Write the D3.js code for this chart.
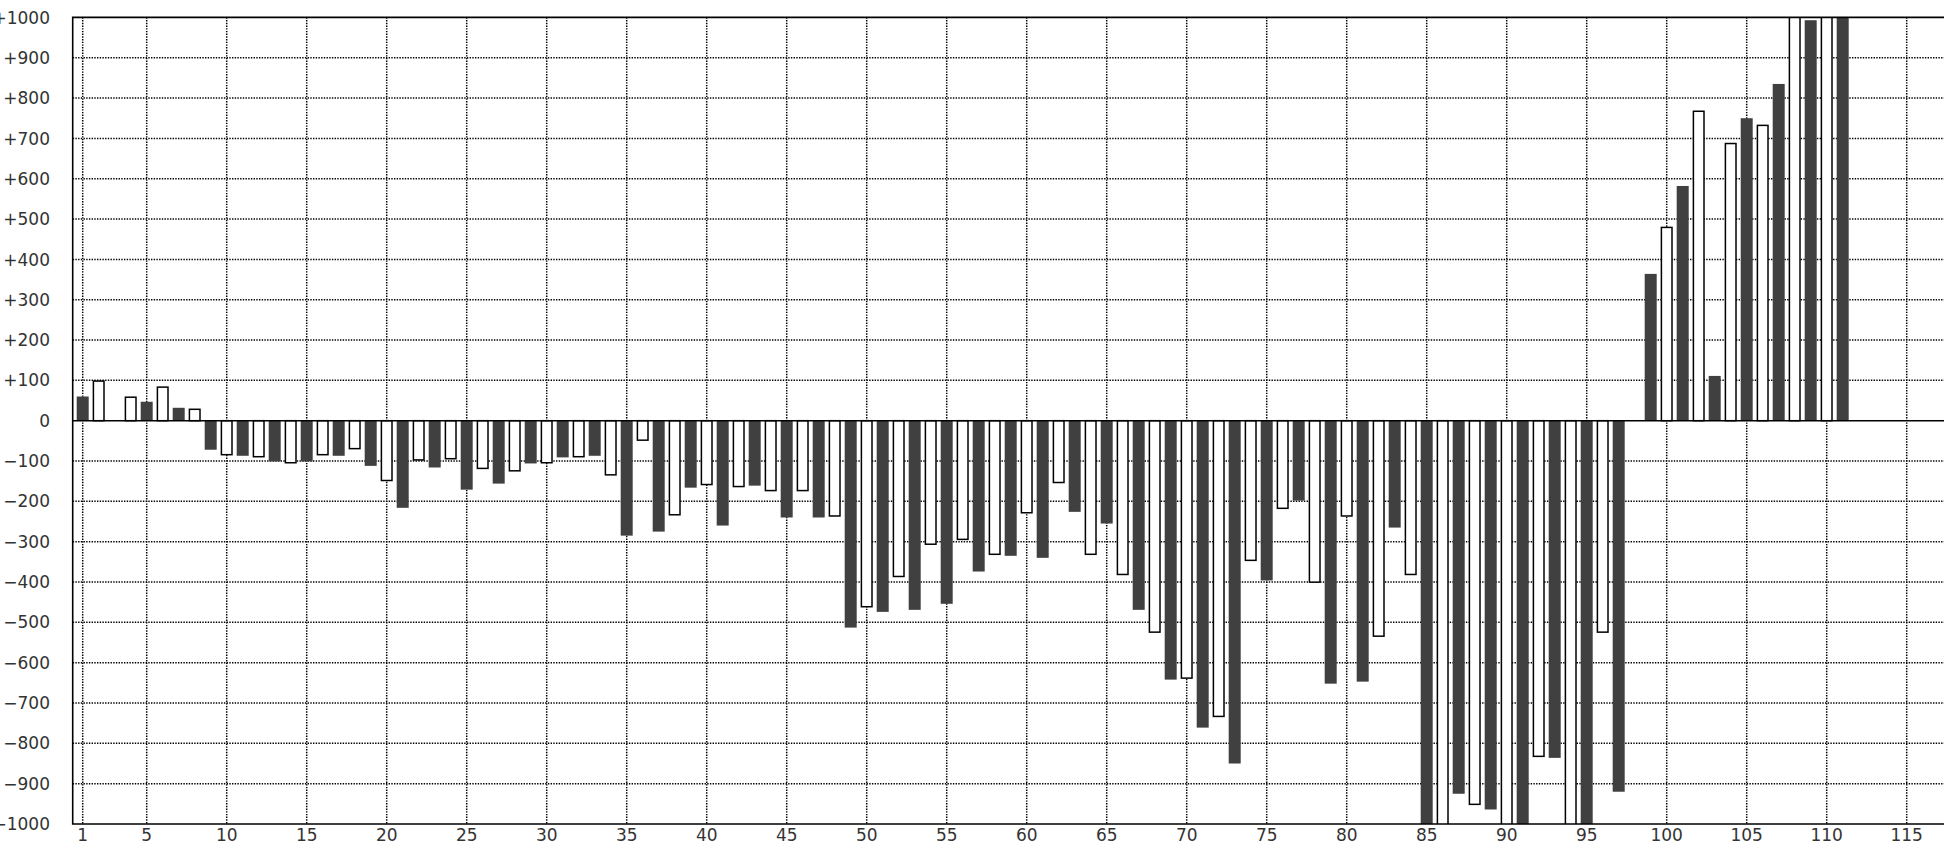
<!DOCTYPE html>
<html>
<head>
<meta charset="utf-8">
<script src="https://cdn.jsdelivr.net/npm/d3@7/dist/d3.min.js"></script>
<style>
  html, body { margin: 0; padding: 0; background: #fff; overflow: hidden; }
  svg { display: block; }
  text { font-family: "DejaVu Sans", sans-serif; font-size: 17px; fill: #333; }
</style>
</head>
<body>
<svg id="chart" width="1944" height="844"></svg>
<script>
// Dark bars sit on odd positions 1,3,5,...,111
const darkValues = [
  60, 0, 47, 32, -72, -87, -101, -101, -87, -112,
  -216, -116, -171, -156, -106, -91, -87, -285, -275, -166,
  -260, -161, -240, -240, -513, -474, -469, -454, -374, -335,
  -340, -226, -255, -469, -642, -761, -850, -396, -198, -652,
  -647, -265, -1050, -925, -964, -1050, -836, -1050, -920, 364,
  582, 111, 750, 835, 993, 1050
];
// White bars sit on even positions 2,4,6,...,110
const whiteValues = [
  100, 60, 85, 30, -86, -91, -106, -86, -71, -150,
  -99, -96, -120, -126, -106, -91, -136, -50, -235, -160,
  -165, -175, -175, -238, -463, -388, -308, -296, -333, -230,
  -155, -333, -383, -526, -640, -735, -348, -219, -402, -238,
  -536, -383, -1050, -953, -1050, -834, -1050, -526, 0, 481,
  769, 689, 734, 1050, 1050
];
const xTicks = [1, 5, 10, 15, 20, 25, 30, 35, 40, 45, 50, 55, 60, 65, 70, 75, 80, 85, 90, 95, 100, 105, 110, 115];
const yTicks = [1000, 900, 800, 700, 600, 500, 400, 300, 200, 100, 0, -100, -200, -300, -400, -500, -600, -700, -800, -900, -1000];

(function () {
const darkData = darkValues.map((v, i) => ({ pos: 2 * i + 1, value: v }));
const whiteData = whiteValues.map((v, i) => ({ pos: 2 * i + 2, value: v }));

const pLeft = 72.7, pTop = 17.4, pBottom = 824, unit = 16;
const x = d3.scaleLinear().domain([0.375, 117.5]).range([pLeft, pLeft + (117.5 - 0.375) * unit]);
const y = d3.scaleLinear().domain([-1000, 1000]).range([pBottom, pTop]);
const pRight = x(117.5);
const barW = 12;

const svg = d3.select("#chart");
svg.append("defs").append("clipPath").attr("id", "plot")
  .append("rect").attr("x", pLeft).attr("y", pTop).attr("width", pRight - pLeft).attr("height", pBottom - pTop);

// grid
const grid = svg.append("g").attr("stroke", "#000").attr("stroke-width", 1.5).attr("stroke-dasharray", "1.4,1.3");
grid.selectAll("line.h").data(yTicks.filter(d => d !== 0 && Math.abs(d) !== 1000)).enter().append("line")
  .attr("x1", pLeft).attr("x2", pRight).attr("y1", d => y(d)).attr("y2", d => y(d));
grid.selectAll("line.v").data(xTicks).enter().append("line")
  .attr("x1", d => x(d)).attr("x2", d => x(d)).attr("y1", pTop).attr("y2", pBottom);

// bars
const bars = svg.append("g").attr("clip-path", "url(#plot)");
bars.selectAll("rect.dark").data(darkData.filter(d => d.value !== 0)).enter().append("rect")
  .attr("x", d => x(d.pos) - barW / 2)
  .attr("width", barW)
  .attr("y", d => y(Math.max(0, d.value)))
  .attr("height", d => Math.abs(y(d.value) - y(0)))
  .attr("fill", "#404040");
bars.selectAll("rect.white").data(whiteData.filter(d => d.value !== 0)).enter().append("rect")
  .attr("x", d => x(d.pos) - barW / 2 + 0.7)
  .attr("width", barW - 1.4)
  .attr("y", d => y(Math.max(0, d.value)) + (d.value > 0 ? 0.7 : 0))
  .attr("height", d => Math.abs(y(d.value) - y(0)) - 0.7)
  .attr("fill", "#fff").attr("stroke", "#000").attr("stroke-width", 1.5);

// zero line and frame
svg.append("line").attr("x1", pLeft).attr("x2", pRight).attr("y1", y(0)).attr("y2", y(0))
  .attr("stroke", "#000").attr("stroke-width", 1.5);
svg.append("path")
  .attr("d", `M${pRight},${pTop}H${pLeft}V${pBottom}H${pRight}`)
  .attr("fill", "none").attr("stroke", "#000").attr("stroke-width", 1.6);

// y labels
const fmt = d => d > 0 ? "+" + d : d < 0 ? "\u2212" + Math.abs(d) : "0";
svg.append("g").selectAll("text").data(yTicks).enter().append("text")
  .attr("x", 50).attr("y", d => y(d)).attr("dy", "0.36em")
  .attr("text-anchor", "end").text(fmt);

// x labels
svg.append("g").selectAll("text").data(xTicks).enter().append("text")
  .attr("x", d => x(d)).attr("y", 841)
  .attr("text-anchor", "middle").text(d => d);
})();
</script>
</body>
</html>
